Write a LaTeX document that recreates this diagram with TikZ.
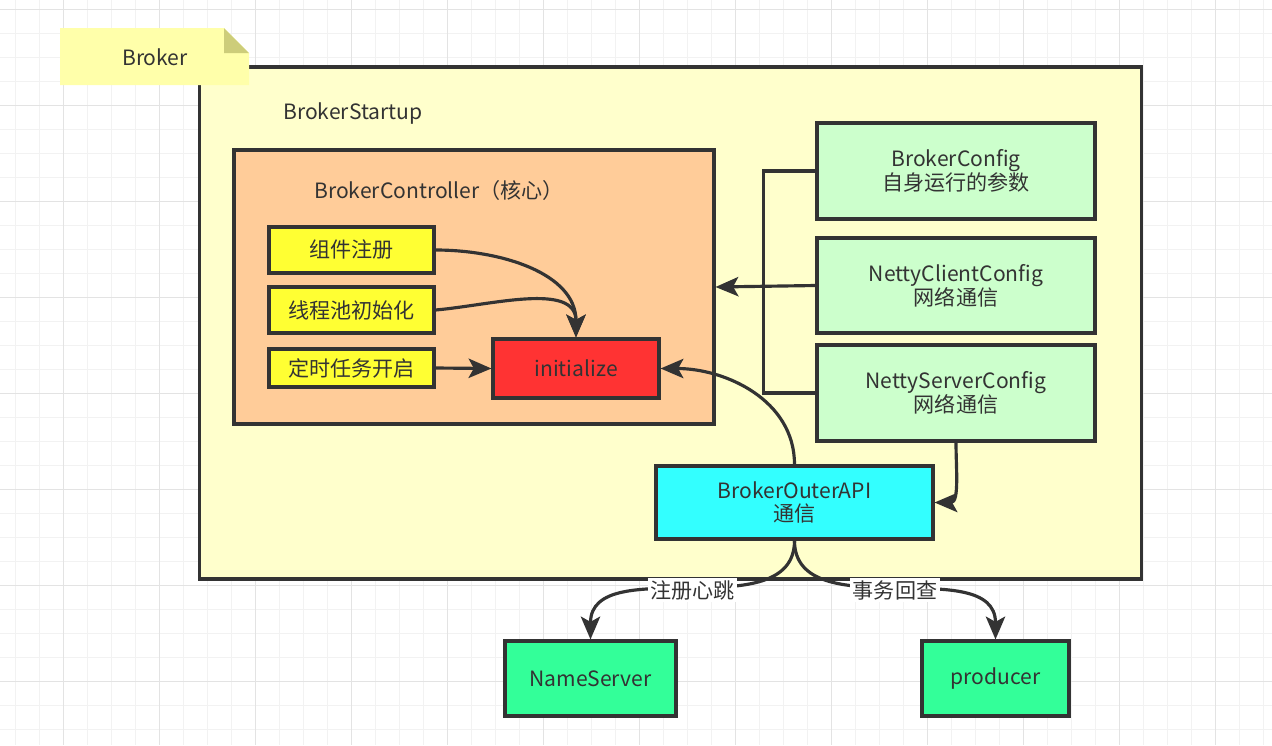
\documentclass[tikz,border=0pt]{standalone}
\usepackage{fontspec}
\setmainfont{Noto Sans CJK SC}
\usetikzlibrary{arrows.meta,positioning}
\definecolor{ink}{HTML}{333333}
\definecolor{gridminor}{HTML}{F2F2F2}
\definecolor{gridmajor}{HTML}{E3E3E3}
\definecolor{notefill}{HTML}{FFFFAA}
\definecolor{notefold}{HTML}{CDCD7A}
\definecolor{startupfill}{HTML}{FFFFCC}
\definecolor{controllerfill}{HTML}{FFCC99}
\definecolor{stepfill}{HTML}{FFFF33}
\definecolor{initfill}{HTML}{FF3333}
\definecolor{configfill}{HTML}{CCFFCC}
\definecolor{outerfill}{HTML}{33FFFF}
\definecolor{peerfill}{HTML}{33FF99}
\tikzset{
  box/.style={draw=ink, line width=1.8pt, text=ink, inner sep=0pt, align=center},
  plaintext/.style={text=ink, inner sep=0pt},
  tag/.style={fill=white, text=ink, inner sep=1.5pt},
  wire/.style={draw=ink, line width=1.8pt},
  conn/.style={wire, -{Stealth[length=13pt,width=11pt,inset=3pt]}},
}
\begin{document}
\begin{tikzpicture}[x=0.02cm, y=-0.02cm, font=\fontsize{12}{13.6}\selectfont]
\useasboundingbox (0,0) rectangle (1272,745);
\fill[white] (0,0) rectangle (1272,745);

% background grid
\foreach \g in {15.3,39.3,...,1272} \draw[gridminor, line width=0.5pt] (\g,0) -- (\g,745);
\foreach \g in {9.3,33.3,...,745} \draw[gridminor, line width=0.5pt] (0,\g) -- (1272,\g);
\foreach \g in {63.3,159.3,...,1272} \draw[gridmajor, line width=0.5pt] (\g,0) -- (\g,745);
\foreach \g in {9.3,105.3,...,745} \draw[gridmajor, line width=0.5pt] (0,\g) -- (1272,\g);

% containers
\node[box, fill=startupfill, minimum width=18.86cm, minimum height=10.24cm] (startup) at (670.5,323) {};
\node[plaintext, anchor=west] (startuptitle) at (283,114) {BrokerStartup};
\node[box, fill=controllerfill, minimum width=9.6cm, minimum height=5.48cm] (controller) at (474,287) {};
\node[plaintext, anchor=west] (controllertitle) at (314,190) {BrokerController（核心）};

% note in the corner (sits on top of the frame)
\fill[notefill] (60,28) -- (224,28) -- (249,53) -- (249,85) -- (60,85) -- cycle;
\fill[notefold] (224,28) -- (249,53) -- (224,53) -- cycle;
\node[plaintext] (note) at (155,57) {Broker};

% steps inside the controller
\node[box, fill=stepfill, minimum width=3.3cm, minimum height=0.92cm] (reg) at (351.5,250) {组件注册};
\node[box, fill=stepfill, minimum width=3.3cm, minimum height=0.92cm] (pool) at (351.5,310) {线程池初始化};
\node[box, fill=stepfill, minimum width=3.3cm, minimum height=0.76cm] (timer) at (351.5,368) {定时任务开启};
\node[box, fill=initfill, minimum width=3.32cm, minimum height=1.18cm] (init) at (576,368.5) {initialize};

% configs
\node[box, fill=configfill, minimum width=5.56cm, minimum height=1.92cm] (bcfg) at (956,171) {BrokerConfig\\自身运行的参数};
\node[box, fill=configfill, minimum width=5.56cm, minimum height=1.9cm] (ccfg) at (956,285.5) {NettyClientConfig\\网络通信};
\node[box, fill=configfill, minimum width=5.56cm, minimum height=1.92cm] (scfg) at (956,393) {NettyServerConfig\\网络通信};
\node[box, fill=outerfill, minimum width=5.54cm, minimum height=1.46cm] (outer) at (794.5,502.5) {BrokerOuterAPI\\通信};

% outside the broker
\node[box, fill=peerfill, minimum width=3.42cm, minimum height=1.5cm] (nameserver) at (590.5,678.5) {NameServer};
\node[box, fill=peerfill, minimum width=2.94cm, minimum height=1.5cm] (producer) at (995.5,678.5) {producer};

% connectors
\draw[conn] (reg.east) to[out=0, in=90] (init.north);
\draw[conn] (pool.east) to[out=5, in=90] (init.north);
\draw[conn] (timer.east) -- (init.west);
\draw[wire] (bcfg.west) -- ++(-52,0) |- (scfg.west);
\draw[conn] (ccfg.west) -- (controller.east);
\draw[conn] (outer.north) to[out=90, in=0] (init.east);
\draw[conn] (scfg.south) to[out=-90, in=0] (outer.east);
\draw[conn] (outer.south) to[out=-90, in=90] node[tag] {注册心跳} (nameserver.north);
\draw[conn] (outer.south) to[out=-90, in=90] node[tag] {事务回查} (producer.north);
\end{tikzpicture}
\end{document}
